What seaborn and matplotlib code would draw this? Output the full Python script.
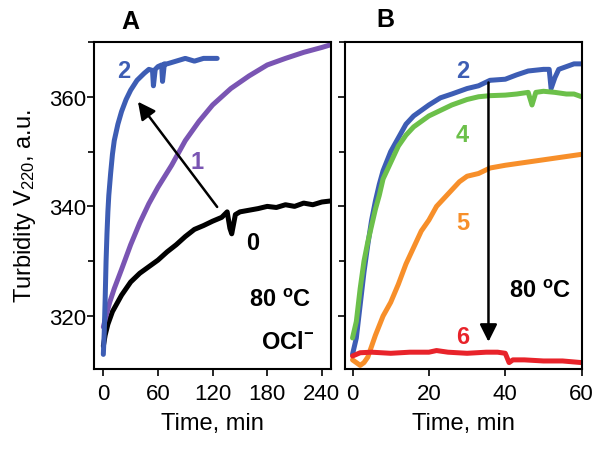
import seaborn as sns
import pandas as pd
import matplotlib
import matplotlib.pyplot as plt
from matplotlib.ticker import MultipleLocator

matplotlib.use("Agg")

# ---- Panel A: OCl- series at 80 C (time in min, turbidity a.u.) ----
a2_t = [0, 1, 2, 3, 4, 5, 6, 8, 10, 12, 16, 20, 25, 30, 37, 45, 50, 54, 55, 57,
        60, 64, 65, 67, 70, 80, 90, 100, 110, 120, 125]
a2_v = [313, 317, 323, 330, 335, 339, 342, 346, 349.5, 352, 355, 357.3, 359.5, 361.2, 363,
        364.3, 365, 364.8, 362, 365, 365.5, 365.8, 362.8, 366, 366, 366.5, 367, 366.5,
        367, 367, 367]
a1_t = [0, 3, 7, 12, 20, 30, 40, 50, 60, 75, 90, 105, 120, 140, 160, 180, 200, 220, 240, 250]
a1_v = [318, 320, 322.5, 325, 328.5, 333, 337, 340.5, 343.5, 347.5, 352, 355.5, 358.5, 361.5,
        363.8, 365.8, 367, 368.1, 369, 369.5]
a0_t = [0, 2, 5, 10, 15, 20, 30, 40, 50, 60, 70, 80, 90, 100, 110, 120, 130, 136, 139,
        141, 145, 150, 160, 170, 180, 190, 200, 210, 220, 230, 240, 250]
a0_v = [314.5, 316.5, 318.5, 320.8, 322.3, 323.8, 326.2, 327.8, 329, 330.2, 331.7, 333,
        334.5, 335.8, 336.5, 337.3, 338, 339, 336, 335, 338.5, 339, 339.3, 339.6, 340,
        339.8, 340.3, 340, 340.6, 340.3, 340.8, 341]

# ---- Panel B: 80 C series ----
b2_t = [0, 1, 2, 3, 4, 5, 6, 7, 8, 10, 12, 14, 16, 18, 20, 23, 26, 30, 33, 36, 40, 43,
        46, 50, 51.5, 52, 53, 54, 56, 58, 60]
b2_v = [313, 316, 322, 328, 333, 337.5, 341, 344, 346.5, 350, 352.5, 355, 356.5, 357.5,
        358.5, 359.8, 360.5, 361.5, 362, 363, 363.2, 364, 364.7, 365, 365, 361.5, 363.5,
        365, 365.5, 366, 366]
b4_t = [0, 1, 2, 3, 4, 5, 6, 7, 8, 10, 12, 14, 16, 18, 20, 23, 26, 30, 33, 36, 40, 43,
        46, 47, 48, 50, 53, 56, 58, 60]
b4_v = [316, 319, 325, 330, 333.5, 336.5, 339.5, 342, 345, 348, 351, 353, 354.5, 355.5,
        356.5, 357.5, 358.5, 359.5, 360, 360.2, 360.3, 360.5, 360.8, 358.5, 360.8, 361,
        360.8, 360.5, 360.5, 360]
b5_t = [0, 1, 2, 3, 4, 5, 6, 8, 10, 12, 14, 16, 18, 20, 22, 24, 26, 28, 30, 33, 36, 40,
        45, 50, 55, 60]
b5_v = [312, 311.5, 311, 311.5, 312.5, 314.5, 316.5, 320, 322.5, 325.8, 329.5, 332.5,
        335.5, 337.5, 340, 341.5, 343, 344.5, 345.5, 346, 347, 347.5, 348, 348.5, 349, 349.5]
b6_t = [0, 2, 5, 10, 15, 20, 22, 25, 30, 35, 38, 40, 41, 42, 45, 50, 55, 60]
b6_v = [312.7, 313.3, 313.4, 313.2, 313.4, 313.4, 313.7, 313.4, 313.2, 313.4, 313.4, 313.2,
        311.5, 312, 312, 311.8, 311.8, 311.5]

colors = {"0": "#000000", "1": "#7a55b3", "2": "#3d5db4",
          "4": "#6cc04a", "5": "#f78f2a", "6": "#e8232a"}


def make_df(series):
    frames = []
    for name, t, v in series:
        frames.append(pd.DataFrame({"Time": t, "Turbidity": v, "Sample": name}))
    return pd.concat(frames, ignore_index=True)


df_a = make_df([("0", a0_t, a0_v), ("1", a1_t, a1_v), ("2", a2_t, a2_v)])
df_b = make_df([("2", b2_t, b2_v), ("4", b4_t, b4_v), ("5", b5_t, b5_v), ("6", b6_t, b6_v)])

sns.set_style("ticks")
plt.rcParams['font.family'] = ['Liberation Sans', 'DejaVu Sans']
plt.rcParams['mathtext.fontset'] = 'custom'
plt.rcParams['mathtext.rm'] = 'Liberation Sans'
plt.rcParams['mathtext.bf'] = 'Liberation Sans:bold'
plt.rcParams['mathtext.default'] = 'regular'
for key in ['text.color', 'axes.labelcolor', 'xtick.color', 'ytick.color', 'axes.edgecolor']:
    plt.rcParams[key] = 'black'

fig = plt.figure(figsize=(6.04, 4.52), dpi=100)
ax_a = fig.add_axes([0.156, 0.181, 0.392, 0.724])
ax_b = fig.add_axes([0.571, 0.181, 0.392, 0.724])

sns.lineplot(data=df_a, x="Time", y="Turbidity", hue="Sample", palette=colors,
             linewidth=3.6, sort=False, estimator=None, legend=False, ax=ax_a)
sns.lineplot(data=df_b, x="Time", y="Turbidity", hue="Sample", palette=colors,
             linewidth=3.6, sort=False, estimator=None, legend=False, ax=ax_b)

for ax in (ax_a, ax_b):
    ax.set_ylim(310.3, 370)
    ax.yaxis.set_major_locator(MultipleLocator(20))
    ax.yaxis.set_minor_locator(MultipleLocator(10))
    ax.tick_params(axis='both', which='major', labelsize=16, length=5, width=1.2, direction='out')
    ax.tick_params(axis='y', which='minor', length=4, width=1.2)
    ax.tick_params(axis='y', pad=1)
    ax.tick_params(axis='x', pad=5)
    for sp in ax.spines.values():
        sp.set_visible(True)
        sp.set_linewidth(1.5)
        sp.set_color("black")
    ax.set_xlabel("Time, min", fontsize=17, labelpad=6)

ax_a.set_xlim(-10, 250)
ax_a.set_xticks([0, 60, 120, 180, 240])
ax_a.set_ylabel(r"Turbidity V$_{220}$, a.u.", fontsize=17, labelpad=8)

ax_b.set_xlim(-2, 60)
ax_b.set_xticks([0, 20, 40, 60])
ax_b.set_ylabel("")
ax_b.set_yticklabels([])

arrow_style = dict(arrowstyle="-|>,head_length=0.7,head_width=0.35", color="black",
                   lw=1.8, mutation_scale=15, shrinkA=0, shrinkB=0)

# panel A annotations
ax_a.annotate("", xy=(38, 359.1), xytext=(125, 339.9), arrowprops=arrow_style)
ax_a.text(22, 364.7, "2", color=colors["2"], fontsize=17, fontweight="bold", ha="center", va="center")
ax_a.text(103, 348.1, "1", color=colors["1"], fontsize=17, fontweight="bold", ha="center", va="center")
ax_a.text(164, 333.5, "0", color="black", fontsize=17, fontweight="bold", ha="center", va="center")
ax_a.text(194, 323.1, r"80 $^{\mathbf{o}}$C", fontsize=17, fontweight="bold", ha="center", va="center")
ax_a.text(202, 315.3, r"OCl$^{\mathbf{-}}$", fontsize=17, fontweight="bold", ha="center", va="center")

# panel B annotations
ax_b.annotate("", xy=(35.6, 315.3), xytext=(35.6, 362.6), arrowprops=arrow_style)
ax_b.text(28.8, 364.7, "2", color=colors["2"], fontsize=17, fontweight="bold", ha="center", va="center")
ax_b.text(28.8, 353.2, "4", color=colors["4"], fontsize=17, fontweight="bold", ha="center", va="center")
ax_b.text(28.8, 337, "5", color=colors["5"], fontsize=17, fontweight="bold", ha="center", va="center")
ax_b.text(28.8, 316.2, "6", color=colors["6"], fontsize=17, fontweight="bold", ha="center", va="center")
ax_b.text(49, 324.6, r"80 $^{\mathbf{o}}$C", fontsize=17, fontweight="bold", ha="center", va="center")

fig.text(130 / 604, 1 - 22 / 452, "A", fontsize=18, fontweight="bold", ha="center", va="center")
fig.text(385 / 604, 1 - 20 / 452, "B", fontsize=18, fontweight="bold", ha="center", va="center")

fig.savefig("out.png", dpi=100)
